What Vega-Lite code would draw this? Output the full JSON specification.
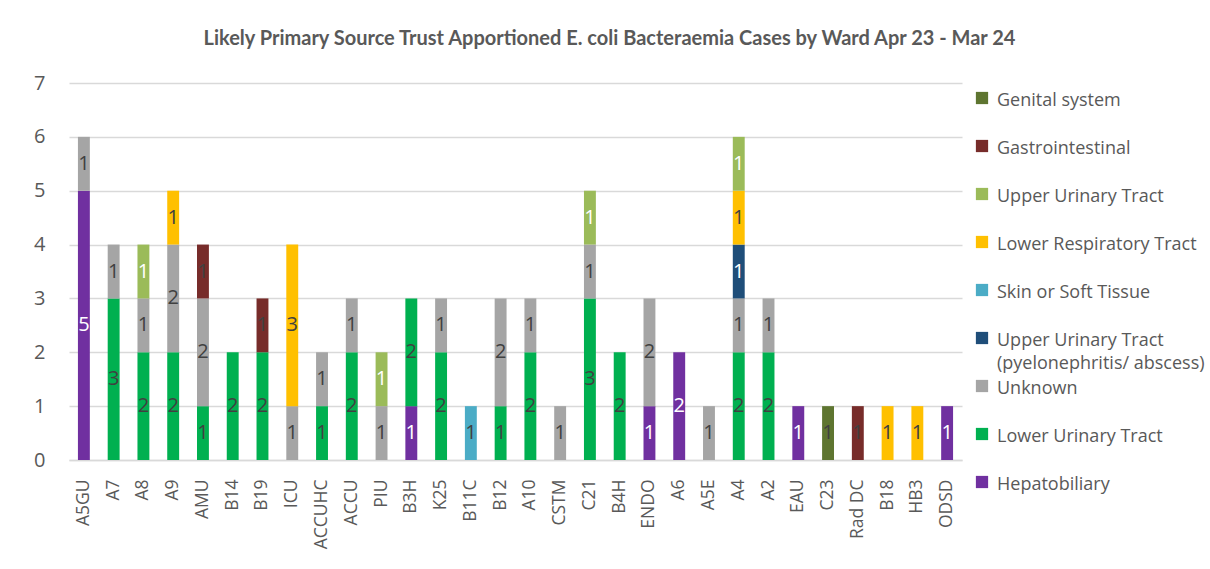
{
  "$schema": "https://vega.github.io/schema/vega-lite/v6.json",
  "width": 893,
  "height": 377,
  "autosize": {"type": "none"},
  "padding": {"left": 69, "top": 83, "right": 248, "bottom": 109},
  "background": "white",
  "title": {
    "text": "Likely Primary Source Trust Apportioned E. coli Bacteraemia Cases by Ward Apr 23 - Mar 24",
    "font": "Lato",
    "fontSize": 20,
    "fontWeight": "bold",
    "color": "#595959",
    "anchor": "middle",
    "dx": 94,
    "offset": 24
  },
  "data": {
    "values": [
      {"ward": "A5GU", "source": "Hepatobiliary", "n": 5},
      {"ward": "A5GU", "source": "Unknown", "n": 1},
      {"ward": "A7", "source": "Lower Urinary Tract", "n": 3},
      {"ward": "A7", "source": "Unknown", "n": 1},
      {"ward": "A8", "source": "Lower Urinary Tract", "n": 2},
      {"ward": "A8", "source": "Unknown", "n": 1},
      {"ward": "A8", "source": "Upper Urinary Tract", "n": 1},
      {"ward": "A9", "source": "Lower Urinary Tract", "n": 2},
      {"ward": "A9", "source": "Unknown", "n": 2},
      {"ward": "A9", "source": "Lower Respiratory Tract", "n": 1},
      {"ward": "AMU", "source": "Lower Urinary Tract", "n": 1},
      {"ward": "AMU", "source": "Unknown", "n": 2},
      {"ward": "AMU", "source": "Gastrointestinal", "n": 1},
      {"ward": "B14", "source": "Lower Urinary Tract", "n": 2},
      {"ward": "B19", "source": "Lower Urinary Tract", "n": 2},
      {"ward": "B19", "source": "Gastrointestinal", "n": 1},
      {"ward": "ICU", "source": "Unknown", "n": 1},
      {"ward": "ICU", "source": "Lower Respiratory Tract", "n": 3},
      {"ward": "ACCUHC", "source": "Lower Urinary Tract", "n": 1},
      {"ward": "ACCUHC", "source": "Unknown", "n": 1},
      {"ward": "ACCU", "source": "Lower Urinary Tract", "n": 2},
      {"ward": "ACCU", "source": "Unknown", "n": 1},
      {"ward": "PIU", "source": "Unknown", "n": 1},
      {"ward": "PIU", "source": "Upper Urinary Tract", "n": 1},
      {"ward": "B3H", "source": "Hepatobiliary", "n": 1},
      {"ward": "B3H", "source": "Lower Urinary Tract", "n": 2},
      {"ward": "K25", "source": "Lower Urinary Tract", "n": 2},
      {"ward": "K25", "source": "Unknown", "n": 1},
      {"ward": "B11C", "source": "Skin or Soft Tissue", "n": 1},
      {"ward": "B12", "source": "Lower Urinary Tract", "n": 1},
      {"ward": "B12", "source": "Unknown", "n": 2},
      {"ward": "A10", "source": "Lower Urinary Tract", "n": 2},
      {"ward": "A10", "source": "Unknown", "n": 1},
      {"ward": "CSTM", "source": "Unknown", "n": 1},
      {"ward": "C21", "source": "Lower Urinary Tract", "n": 3},
      {"ward": "C21", "source": "Unknown", "n": 1},
      {"ward": "C21", "source": "Upper Urinary Tract", "n": 1},
      {"ward": "B4H", "source": "Lower Urinary Tract", "n": 2},
      {"ward": "ENDO", "source": "Hepatobiliary", "n": 1},
      {"ward": "ENDO", "source": "Unknown", "n": 2},
      {"ward": "A6", "source": "Hepatobiliary", "n": 2},
      {"ward": "A5E", "source": "Unknown", "n": 1},
      {"ward": "A4", "source": "Lower Urinary Tract", "n": 2},
      {"ward": "A4", "source": "Unknown", "n": 1},
      {"ward": "A4", "source": "Upper Urinary Tract (pyelonephritis/ abscess)", "n": 1},
      {"ward": "A4", "source": "Lower Respiratory Tract", "n": 1},
      {"ward": "A4", "source": "Upper Urinary Tract", "n": 1},
      {"ward": "A2", "source": "Lower Urinary Tract", "n": 2},
      {"ward": "A2", "source": "Unknown", "n": 1},
      {"ward": "EAU", "source": "Hepatobiliary", "n": 1},
      {"ward": "C23", "source": "Genital system", "n": 1},
      {"ward": "Rad DC", "source": "Gastrointestinal", "n": 1},
      {"ward": "B18", "source": "Lower Respiratory Tract", "n": 1},
      {"ward": "HB3", "source": "Lower Respiratory Tract", "n": 1},
      {"ward": "ODSD", "source": "Hepatobiliary", "n": 1}
    ]
  },
  "transform": [
    {"calculate": "indexof(['Hepatobiliary','Lower Urinary Tract','Unknown','Upper Urinary Tract (pyelonephritis/ abscess)','Skin or Soft Tissue','Lower Respiratory Tract','Upper Urinary Tract','Gastrointestinal','Genital system'], datum.source)", "as": "ord"},
    {"stack": "n", "groupby": ["ward"], "sort": [{"field": "ord", "order": "ascending"}], "as": ["y0", "y1"]},
    {"calculate": "(datum.y0 + datum.y1) / 2", "as": "mid"}
  ],
  "encoding": {
    "x": {
      "field": "ward",
      "type": "nominal",
      "sort": null,
      "scale": {"paddingInner": 0.6, "paddingOuter": 0.3},
      "axis": {
        "title": null,
        "labelAngle": -90,
        "labelFont": "Open Sans",
        "labelFontSize": 17.5,
        "labelColor": "#595959",
        "labelPadding": 19,
        "ticks": false,
        "domainColor": "#d9d9d9",
        "domainWidth": 1.5,
        "grid": false
      }
    }
  },
  "layer": [
    {
      "mark": {"type": "bar"},
      "encoding": {
        "y": {
          "field": "y0",
          "type": "quantitative",
          "scale": {"domain": [0, 7], "nice": false},
          "axis": {
            "title": null,
            "values": [0, 1, 2, 3, 4, 5, 6, 7],
            "format": "d",
            "labelFont": "Open Sans",
            "labelFontSize": 20,
            "labelColor": "#595959",
            "labelPadding": 24,
            "ticks": false,
            "domain": false,
            "grid": true,
            "gridColor": "#d9d9d9",
            "gridWidth": 1.5
          }
        },
        "y2": {"field": "y1"},
        "color": {
          "field": "source",
          "type": "nominal",
          "scale": {
            "domain": ["Genital system", "Gastrointestinal", "Upper Urinary Tract", "Lower Respiratory Tract", "Skin or Soft Tissue", "Upper Urinary Tract (pyelonephritis/ abscess)", "Unknown", "Lower Urinary Tract", "Hepatobiliary"],
            "range": ["#5E7530", "#772C2A", "#9BBB59", "#FFC000", "#4BACC6", "#1F4E79", "#A5A5A5", "#00B050", "#7030A0"]
          },
          "legend": {
            "title": null,
            "orient": "none",
            "legendX": 904,
            "legendY": 6,
            "symbolType": "square",
            "symbolSize": 150,
            "symbolStrokeWidth": 0,
            "labelFont": "Open Sans",
            "labelFontSize": 18,
            "labelColor": "#595959",
            "labelOffset": 6,
            "labelLimit": 300,
            "labelBaseline": "top",
            "rowPadding": 4,
            "labelExpr": "datum.label == 'Upper Urinary Tract (pyelonephritis/ abscess)' ? ['Upper Urinary Tract', '(pyelonephritis/ abscess)'] : [datum.label, '']",
            "encode": {"labels": {"update": {"dy": {"value": -6}, "lineHeight": {"value": 23}}}}
          }
        }
      }
    },
    {
      "mark": {"type": "text", "font": "Open Sans", "fontSize": 20, "baseline": "middle", "align": "center"},
      "encoding": {
        "y": {"field": "mid", "type": "quantitative"},
        "text": {"field": "n", "type": "quantitative"},
        "color": {
          "condition": {"test": "indexof(['Hepatobiliary','Upper Urinary Tract','Upper Urinary Tract (pyelonephritis/ abscess)'], datum.source) >= 0", "value": "white"},
          "value": "#404040"
        }
      }
    }
  ],
  "config": {
    "view": {"stroke": null},
    "style": {"guide-label": {"lineHeight": 23}}
  }
}
